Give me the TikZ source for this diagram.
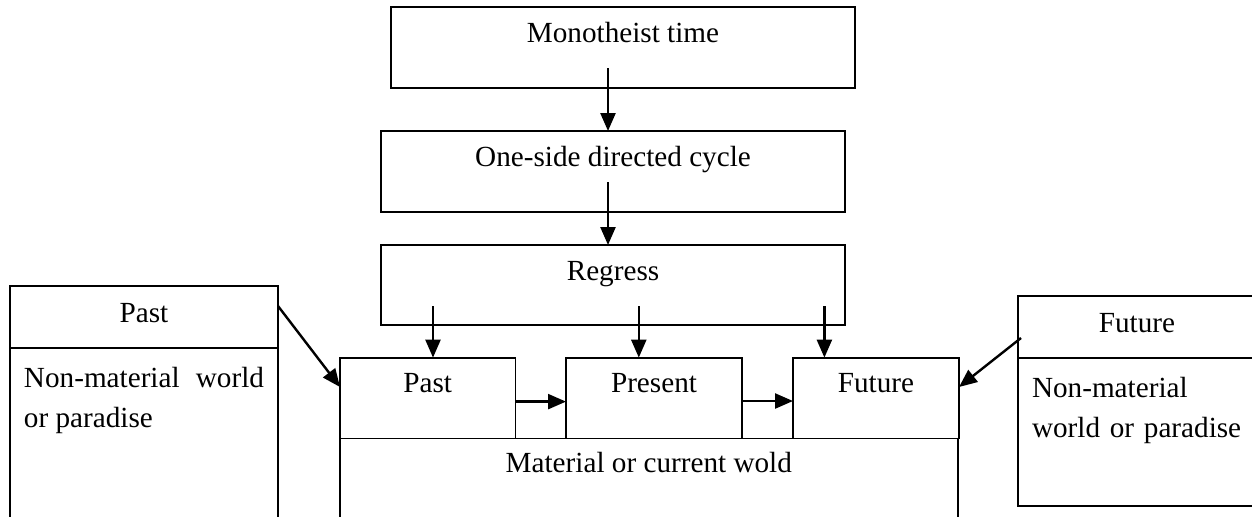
\documentclass[tikz,border=0pt]{standalone}
\usepackage{fontspec}
\setmainfont{Liberation Serif}
\usepackage{tikz}
\usetikzlibrary{arrows.meta,positioning,calc}

\begin{document}
\begin{tikzpicture}[
    x=1pt, y=1pt,
    font=\fontsize{14.6pt}{20pt}\selectfont,
    box/.style={rectangle, draw, line width=0.9pt, outer sep=0pt, inner xsep=0pt, inner ysep=0pt, text height=17.5pt, anchor=north},
    sidehead/.style={box, text height=18pt, text depth=13pt},
    sidebody/.style={rectangle, draw, line width=0.9pt, outer sep=0pt, inner xsep=7pt, inner ysep=0pt, text height=19.5pt, anchor=north},
    arrow/.style={-{Triangle[length=9pt,width=7.5pt]}, line width=1.2pt}
]
\useasboundingbox (0,0) rectangle (626,-258);
\clip (0,0) rectangle (626,-258);

% Top chain
\node[box, minimum width=232pt, text depth=23pt] (mono) at (311.5,-3.5) {Monotheist time};
\node[box, minimum width=232pt, text depth=23pt, below=21.5pt of mono, xshift=-5pt] (cycle) {One-side directed cycle};
\node[box, minimum width=232pt, text depth=22.5pt, below=16.5pt of cycle] (regress) {Regress};

% Time boxes and material world
\node[box, minimum width=87.7pt, text depth=22.9pt] (past) at (213.85,-178.8) {Past};
\node[box, minimum width=88pt, text depth=22.9pt, right=25.3pt of past] (present) {Present};
\node[box, minimum width=83pt, text depth=22.9pt, right=25.5pt of present] (future) {Future};
\node[box, minimum width=308.8pt, text height=16.8pt, text depth=60pt, below right=0pt and 0pt of past.south west] (material) {Material or current wold};

% Side boxes
\node[sidehead, minimum width=134pt] (pastw) at (72,-143) {Past};
\node[sidebody, text width=120pt, align=justify, text depth=80pt, below=0pt of pastw] (pastwbody) {Non-material world or paradise};
\node[sidehead, minimum width=119pt] (futw) at (568.5,-148) {Future};
\node[sidebody, text width=105pt, align=left, text depth=54.5pt, below=0pt of futw] (futwbody) {Non-material world or paradise};

% Arrows - top flow
\draw[arrow] (mono.south) ++(-7.5,10) coordinate (mc) -- (mc |- cycle.north);
\draw[arrow] (cycle.south) ++(-2.5,15) coordinate (cr) -- (cr |- regress.north);

% Arrows - regress to time boxes
\draw[arrow] (regress.south) ++(-90,9.5) coordinate (rpa) -- (rpa |- past.north);
\draw[arrow] (regress.south) ++(12.9,9.5) coordinate (rpr) -- (rpr |- present.north);
\draw[arrow] (regress.south) ++(105.7,9.5) coordinate (rfu) -- (rfu |- future.north);

% Arrows - along time
\draw[arrow] ([yshift=-1.8pt]past.east) -- ([yshift=-1.8pt]present.west);
\draw[arrow] ([yshift=-1.5pt]present.east) -- ([yshift=-1.5pt]future.west);

% Arrows - side worlds
\draw[arrow] ([yshift=5.5pt]pastw.east) -- ([yshift=5.5pt]past.west);
\draw[arrow] ([xshift=1.5pt,yshift=-5.5pt]futw.west) -- ([yshift=5.5pt]future.east);

\end{tikzpicture}
\end{document}
